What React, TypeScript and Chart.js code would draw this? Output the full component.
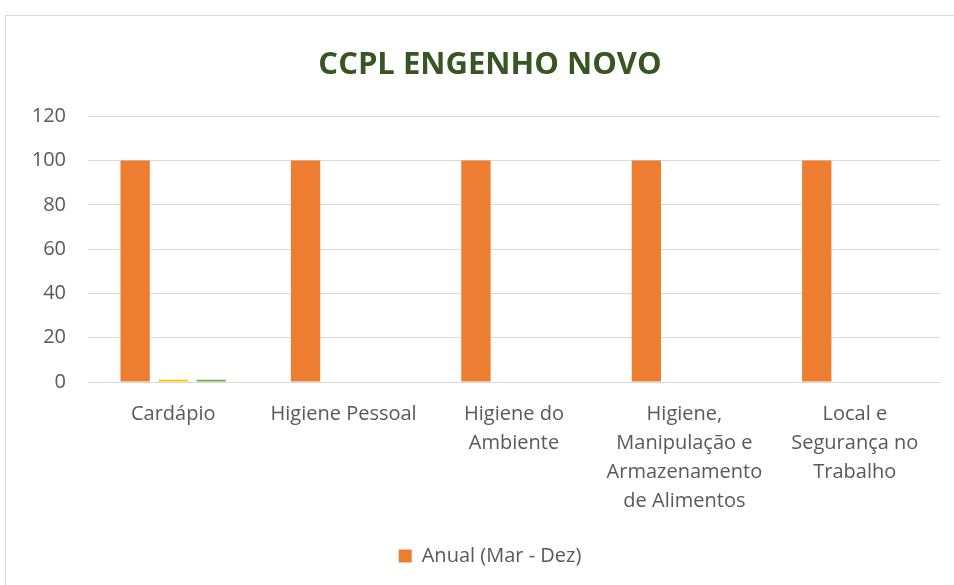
import React, { useEffect, useRef } from "react";
import { Chart, registerables } from "chart.js";
Chart.register(...registerables);

const categories: (string | string[])[] = [
  "Cardápio",
  "Higiene Pessoal",
  ["Higiene do", "Ambiente"],
  ["Higiene,", "Manipulação e", "Armazenamento", "de Alimentos"],
  ["Local e", "Segurança no", "Trabalho"],
];
const anual = [100, 100, 100, 100, 100];
const serie2 = [1, 0, 0, 0, 0];
const serie3 = [1, 0, 0, 0, 0];
const yTicks = [0, 20, 40, 60, 80, 100, 120];

const shiftPlugin = {
  id: "shiftTitleLegend",
  afterLayout(chart: any) {
    if (chart.titleBlock) chart.titleBlock.left += 34;
    if (chart.legend) chart.legend.left += 34;
  },
};

export default function App() {
  const ref = useRef<HTMLCanvasElement>(null);
  useEffect(() => {
    const font = "'Open Sans', sans-serif";
    const chart = new Chart(ref.current!, {
      type: "bar",
      data: {
        labels: categories,
        datasets: [
          { label: "Anual (Mar - Dez)", data: anual, backgroundColor: "#ED7D31", categoryPercentage: 0.67, barPercentage: 0.77 },
          { label: "S2", data: serie2, backgroundColor: "#FFC000", categoryPercentage: 0.67, barPercentage: 0.77 },
          { label: "S3", data: serie3, backgroundColor: "#70AD47", categoryPercentage: 0.67, barPercentage: 0.77 },
        ],
      },
      plugins: [shiftPlugin],
      options: {
        animation: false,
        responsive: false,
        layout: { padding: { left: 0, right: 26, top: 0, bottom: 9 } },
        plugins: {
          title: {
            display: true,
            text: "CCPL ENGENHO NOVO",
            color: "#375623",
            font: { family: font, size: 31, weight: "bold" },
            padding: { top: 31, bottom: 32 },
          },
          legend: {
            position: "bottom",
            labels: {
              filter: (item) => item.datasetIndex === 0,
              color: "#595959",
              font: { family: font, size: 20 },
              boxWidth: 13,
              boxHeight: 13,
              padding: 20,
            },
          },
          tooltip: { enabled: false },
        },
        scales: {
          x: {
            grid: { display: false },
            border: { color: "#d9d9d9" },
            ticks: { color: "#595959", font: { family: font, size: 20, lineHeight: 1.45 }, maxRotation: 0, autoSkip: false, padding: 10 },
          },
          y: {
            min: 0,
            max: 120,
            afterBuildTicks: (axis) => { axis.ticks = yTicks.map((v) => ({ value: v })); },
            afterFit: (axis) => { axis.width = 82; },
            grid: { color: "#d9d9d9", drawTicks: false },
            border: { display: false },
            ticks: { color: "#595959", font: { family: font, size: 20 }, padding: 22 },
          },
        },
      },
    });
    return () => chart.destroy();
  }, []);
  return (
    <div style={{ position: "fixed", left: 0, top: 0, width: 954, height: 585, overflow: "hidden", background: "#fff" }}>
      <div style={{ position: "absolute", left: 5, top: 15, width: 960, height: 580, border: "1px solid #d9d9d9" }}>
        <canvas ref={ref} width={960} height={569} style={{ display: "block" }} />
      </div>
    </div>
  );
}
